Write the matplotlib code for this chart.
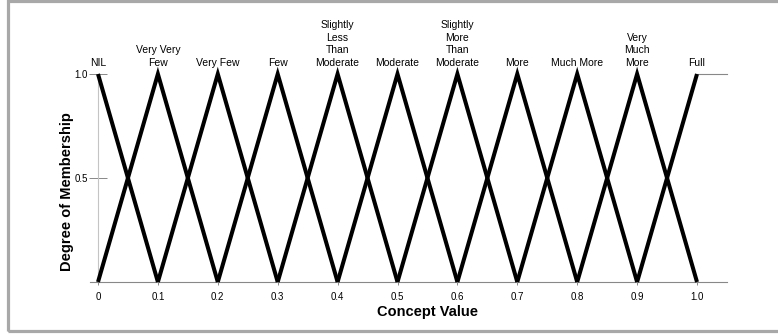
import matplotlib
matplotlib.use("Agg")
import matplotlib.pyplot as plt
from matplotlib.patches import Rectangle

plt.rcParams['font.family'] = ['Liberation Sans', 'DejaVu Sans']

# concept centres and their term names
centers = [0.0, 0.1, 0.2, 0.3, 0.4, 0.5, 0.6, 0.7, 0.8, 0.9, 1.0]
terms = ["NIL", "Very Very\nFew", "Very Few", "Few",
         "Slightly\nLess\nThan\nModerate", "Moderate",
         "Slightly\nMore\nThan\nModerate", "More", "Much More",
         "Very\nMuch\nMore", "Full"]
half_width = 0.1
peak = [0.0, 1.0, 0.0]   # membership at left foot, centre, right foot

xticks = [0, 0.1, 0.2, 0.3, 0.4, 0.5, 0.6, 0.7, 0.8, 0.9, 1.0]
xtick_labels = ["0", "0.1", "0.2", "0.3", "0.4", "0.5", "0.6", "0.7", "0.8", "0.9", "1.0"]
yticks = [0.5, 1.0]
ytick_labels = ["0.5", "1.0"]

W, H = 778, 335
fig = plt.figure(figsize=(W / 100, H / 100), dpi=100)

# grey outer frame (runs off the right edge)
fig.patches.append(Rectangle((8 / W, 4 / H), 800 / W, 330 / H, transform=fig.transFigure,
                             fill=False, edgecolor="#a8a8a8", linewidth=2.3))

ax = fig.add_axes([90 / W, (H - 282) / H, 637 / W, 208 / H])
ax.set_xlim(-8 / 599, 629 / 599)
ax.set_ylim(0, 1)
ax.patch.set_visible(False)

for c in centers:
    xs = [c - half_width, c, c + half_width]
    pts = [(x, y) for x, y in zip(xs, peak) if -1e-9 <= x <= 1 + 1e-9]
    ax.plot([p[0] for p in pts], [p[1] for p in pts], color="black", lw=2.9,
            solid_joinstyle="miter", solid_capstyle="butt", clip_on=False, zorder=3)

# "Full" stays at 1 past the end of the scale
ax.plot([centers[-1], ax.get_xlim()[1]], [1, 1], color="#888888", lw=0.8, clip_on=False)

for c, t in zip(centers, terms):
    ax.annotate(t, xy=(c, 1), xytext=(0, 4.5), textcoords="offset points",
                ha="center", va="bottom", multialignment="center",
                fontsize=7.5, linespacing=1.32, annotation_clip=False)

for s in ["top", "right"]:
    ax.spines[s].set_visible(False)
ax.spines["bottom"].set_color("#888888")
ax.spines["bottom"].set_linewidth(0.8)
ax.spines["left"].set_position(("data", 0))
ax.spines["left"].set_bounds(0, 1)
ax.spines["left"].set_color("#c4c4c4")
ax.spines["left"].set_linewidth(0.8)

ax.set_xticks(xticks)
ax.set_xticklabels(xtick_labels)
ax.set_yticks(yticks)
ax.set_yticklabels(ytick_labels)
ax.tick_params(axis="x", direction="out", length=2.5, width=0.7, color="#888888",
               labelsize=7, pad=5)
ax.tick_params(axis="y", direction="inout", length=12.5, width=0.7, color="#888888",
               labelsize=7, pad=1)

fig.text(67 / W, 1 - 192 / H, "Degree of Membership", rotation=90, ha="center", va="center",
         fontsize=10.5, fontweight="bold")
fig.text(427 / W, 1 - 312 / H, "Concept Value", ha="center", va="center",
         fontsize=10.5, fontweight="bold")

fig.savefig("out.png", dpi=100)
